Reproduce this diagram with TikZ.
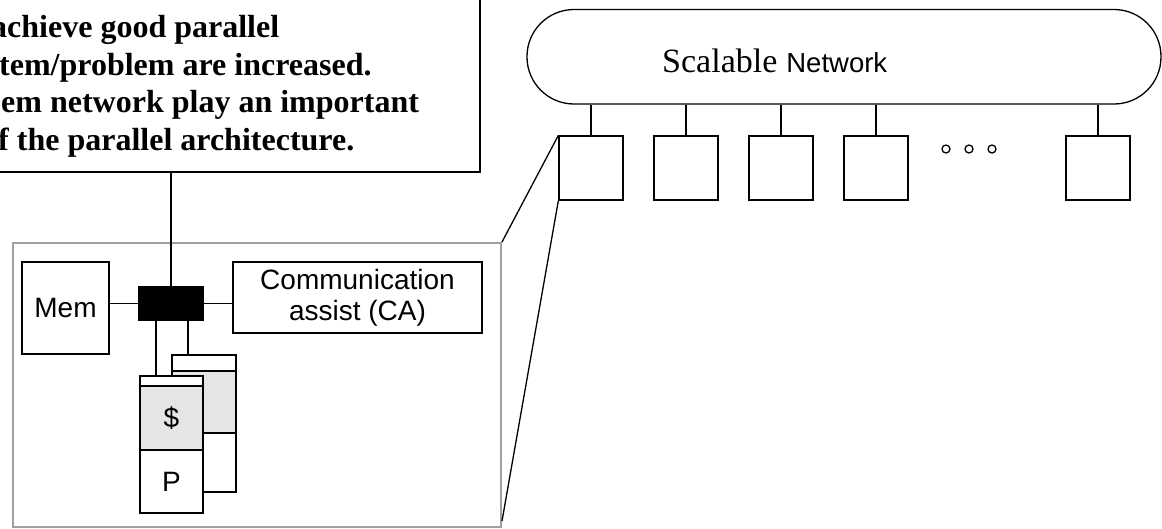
\documentclass[tikz,border=0pt]{standalone}
\usepackage{fontspec}
\setmainfont{Liberation Sans}
\newfontfamily\tnr{Liberation Serif}
\begin{document}
\begin{tikzpicture}[x=1pt,y=-1pt,
  box/.style={draw, line width=1.3pt, inner sep=0pt, fill=white},
  wire/.style={line width=1.3pt},
  lbl/.style={font=\fontsize{28}{31}\selectfont, inner sep=0pt},
  calltext/.style={anchor=base west, inner sep=0pt, font=\tnr\bfseries\fontsize{32}{36}\selectfont},
  dot/.style={draw, circle, line width=1.3pt, minimum size=8pt, inner sep=0pt}]
\useasboundingbox (0,0) rectangle (1162,528);
\clip (0,0) rectangle (1162,528);
\fill[white] (0,0) rectangle (1162,528);

% callout
\node[draw, line width=2.5pt, inner sep=0pt, minimum width=520pt, minimum height=212pt] (callout) at (220,66) {};
\node[calltext] (t1) at (-9,37) {achieve good parallel};
\node[calltext] (t2) at (-1,75) {tem/problem are increased.};
\node[calltext] (t3) at (1,112) {em network play an important};
\node[calltext] (t4) at (-2,150) {f the parallel architecture.};

% network
\node[draw, line width=1.3pt, rounded corners=47pt, minimum width=634pt, minimum height=94.5pt, inner sep=0pt] (net) at (844,56.75) {};
\node[anchor=base west, inner sep=0pt] (netlbl) at (662,72) {{\fontsize{34}{38}\selectfont\tnr Scalable}\hspace{9pt}{\fontsize{27.5}{30}\selectfont Network}};

\node[box, minimum width=64pt, minimum height=64pt] (b1) at (591,168) {};
\node[box, minimum width=64pt, minimum height=64pt] (b2) at (686,168) {};
\node[box, minimum width=64pt, minimum height=64pt] (b3) at (781,168) {};
\node[box, minimum width=64pt, minimum height=64pt] (b4) at (876,168) {};
\node[box, minimum width=64pt, minimum height=64pt] (b5) at (1098,168) {};
\foreach \b in {b1,b2,b3,b4,b5} \draw[wire] (\b.north) -- (\b.north |- net.south);
\node[dot] (d1) at (946,149) {};
\node[dot] (d2) at (969,149) {};
\node[dot] (d3) at (992,149) {};

% zoomed node frame
\node[draw=gray!75, line width=2pt, inner sep=0pt, minimum width=488pt, minimum height=284pt] (frame) at (257,385) {};
\draw[wire] (b1.north west) -- (frame.north east);
\draw[wire] (b1.south west) -- ([yshift=7pt]frame.south east);

\node[box, minimum width=87pt, minimum height=92pt, lbl] (mem) at (65.5,308) {Mem};
\node[box, minimum width=249pt, minimum height=71pt, lbl, align=center] (ca) at (357.5,297.5) {Communication\\assist (CA)};
\node[draw, fill=black, line width=1.3pt, inner sep=0pt, minimum width=64pt, minimum height=33pt] (hub) at (171,303.5) {};
\draw[wire] (hub.west) -- (hub.west -| mem.east);
\draw[wire] (hub.east) -- (hub.east -| ca.west);
\draw[wire] (hub.north) -- (hub.north |- callout.south);

% back processor stack
\node[box, minimum width=64pt, minimum height=16pt] (bs) at (204,363) {};
\node[box, fill=gray!20, minimum width=64pt, minimum height=62pt] (bc) at (204,402) {};
\node[box, minimum width=64pt, minimum height=59pt] (bp) at (204,462.5) {};
% front processor stack
\node[box, minimum width=63pt, minimum height=10pt] (fs) at (171.5,381) {};
\node[box, fill=gray!20, minimum width=63pt, minimum height=64pt, lbl] (fc) at (171.5,418) {\$};
\node[box, minimum width=63pt, minimum height=63pt, lbl] (fp) at (171.5,481.5) {P};

\draw[wire] ([xshift=-15pt]hub.south) -- ([xshift=-15pt]hub.south |- fs.north);
\draw[wire] ([xshift=17pt]hub.south) -- ([xshift=17pt]hub.south |- bs.north);
\end{tikzpicture}
\end{document}
